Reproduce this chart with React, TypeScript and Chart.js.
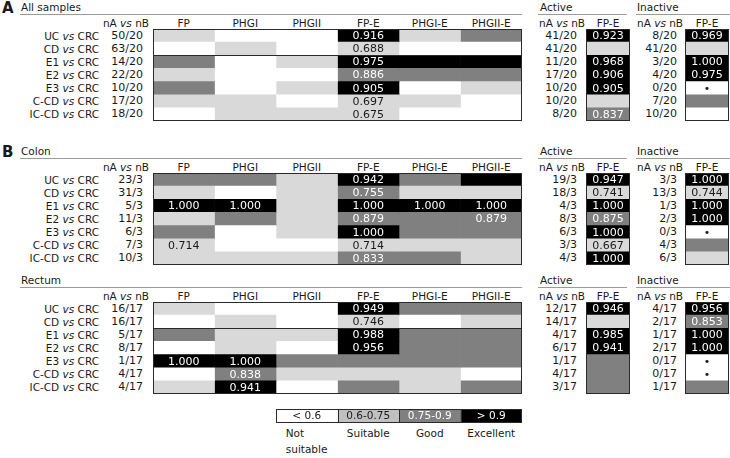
import React, { useEffect, useRef } from 'react';
import { Chart, registerables } from 'chart.js';
Chart.register(...registerables);

// ---------------- DATA ----------------
const comparisons = ['UC', 'CD', 'E1', 'E2', 'E3', 'C-CD', 'IC-CD'];
const methods = ['FP', 'PHGI', 'PHGII', 'FP-E', 'PHGI-E', 'PHGII-E'];
// class codes: 0 = < 0.6, 1 = 0.6-0.75, 2 = 0.75-0.9, 3 = > 0.9
const legendRanges = ['< 0.6', '0.6-0.75', '0.75-0.9', '> 0.9'];
const legendNames = ['Not suitable', 'Suitable', 'Good', 'Excellent'];

// All samples
const allN = ['50/20', '63/20', '14/20', '22/20', '10/20', '17/20', '18/20'];
const allClass = [
  [1, 0, 0, 3, 1, 2],
  [0, 1, 0, 1, 0, 0],
  [2, 0, 1, 3, 3, 3],
  [1, 0, 0, 2, 2, 2],
  [2, 0, 1, 3, 0, 1],
  [1, 1, 0, 1, 1, 0],
  [0, 1, 1, 1, 0, 0],
];
const allText = [
  ['', '', '', '0.916', '', ''],
  ['', '', '', '0.688', '', ''],
  ['', '', '', '0.975', '', ''],
  ['', '', '', '0.886', '', ''],
  ['', '', '', '0.905', '', ''],
  ['', '', '', '0.697', '', ''],
  ['', '', '', '0.675', '', ''],
];
const allActiveN = ['41/20', '41/20', '11/20', '17/20', '10/20', '10/20', '8/20'];
const allActiveClass = [3, 1, 3, 3, 3, 1, 2];
const allActiveText = ['0.923', '', '0.968', '0.906', '0.905', '', '0.837'];
const allInactiveN = ['8/20', '41/20', '3/20', '4/20', '0/20', '7/20', '10/20'];
const allInactiveClass = [3, 1, 3, 3, 0, 2, 0];
const allInactiveText = ['0.969', '', '1.000', '0.975', '•', '', ''];

// Colon
const colonN = ['23/3', '31/3', '5/3', '11/3', '6/3', '7/3', '10/3'];
const colonClass = [
  [2, 2, 1, 3, 2, 3],
  [1, 0, 1, 2, 1, 1],
  [3, 3, 1, 3, 3, 3],
  [1, 2, 1, 2, 2, 2],
  [2, 0, 1, 3, 2, 2],
  [1, 0, 0, 1, 1, 1],
  [1, 1, 1, 2, 2, 1],
];
const colonText = [
  ['', '', '', '0.942', '', ''],
  ['', '', '', '0.755', '', ''],
  ['1.000', '1.000', '', '1.000', '1.000', '1.000'],
  ['', '', '', '0.879', '', '0.879'],
  ['', '', '', '1.000', '', ''],
  ['0.714', '', '', '0.714', '', ''],
  ['', '', '', '0.833', '', ''],
];
const colonActiveN = ['19/3', '18/3', '4/3', '8/3', '6/3', '3/3', '4/3'];
const colonActiveClass = [3, 1, 3, 2, 3, 1, 3];
const colonActiveText = ['0.947', '0.741', '1.000', '0.875', '1.000', '0.667', '1.000'];
const colonInactiveN = ['3/3', '13/3', '1/3', '2/3', '0/3', '4/3', '6/3'];
const colonInactiveClass = [3, 1, 3, 3, 0, 2, 1];
const colonInactiveText = ['1.000', '0.744', '1.000', '1.000', '•', '', ''];

// Rectum
const rectumN = ['16/17', '16/17', '5/17', '8/17', '1/17', '4/17', '4/17'];
const rectumClass = [
  [1, 0, 0, 3, 2, 2],
  [0, 1, 0, 1, 0, 1],
  [2, 1, 1, 3, 2, 2],
  [0, 1, 0, 3, 2, 2],
  [3, 3, 2, 2, 2, 2],
  [0, 2, 1, 1, 1, 0],
  [1, 3, 0, 2, 1, 2],
];
const rectumText = [
  ['', '', '', '0.949', '', ''],
  ['', '', '', '0.746', '', ''],
  ['', '', '', '0.988', '', ''],
  ['', '', '', '0.956', '', ''],
  ['1.000', '1.000', '', '', '', ''],
  ['', '0.838', '', '', '', ''],
  ['', '0.941', '', '', '', ''],
];
const rectumActiveN = ['12/17', '14/17', '4/17', '6/17', '1/17', '4/17', '3/17'];
const rectumActiveClass = [3, 1, 3, 3, 2, 2, 2];
const rectumActiveText = ['0.946', '', '0.985', '0.941', '', '', ''];
const rectumInactiveN = ['4/17', '2/17', '1/17', '2/17', '0/17', '0/17', '1/17'];
const rectumInactiveClass = [3, 2, 3, 3, 0, 0, 2];
const rectumInactiveText = ['0.956', '0.853', '1.000', '1.000', '•', '•', ''];

// ---------------- STYLE / LAYOUT ----------------
const FONT = "'DejaVu Sans', sans-serif";
const TEXT_COLOR = '#1a1a1a';
const CELL_COLORS = ['#ffffff', '#d9d9d9', '#808080', '#000000'];
const LEGEND_COLORS = ['#ffffff', '#c0c0c0', '#808080', '#000000'];
const ROW_H = 13.1;
const MAIN_LEFT = 153;
const COL_W = 61.5;
const ACT_LEFT = 586;
const INACT_LEFT = 685;
const BOX_W = 44;

type GridProps = {
  left: number; top: number; width: number; height: number;
  labels: string[]; classes: number[][]; texts: string[][]; colors: string[];
  outline?: boolean; separator?: number | null; dividers?: boolean; fontSize?: number;
};

function Grid(p: GridProps) {
  const ref = useRef<HTMLCanvasElement>(null);
  useEffect(() => {
    const nCols = p.classes[0].length;
    const datasets = Array.from({ length: nCols }, (_, c) => ({
      data: p.classes.map(() => [c, c + 1]),
      backgroundColor: p.classes.map((row) => p.colors[row[c]]),
      borderWidth: 0,
      grouped: false,
      barPercentage: 1,
      categoryPercentage: 1,
    }));
    const decor = {
      id: 'gridDecor',
      afterDatasetsDraw(chart: any) {
        const { ctx, chartArea: a } = chart;
        ctx.save();
        ctx.font = `${p.fontSize ?? 11}px ${FONT}`;
        ctx.textAlign = 'center';
        ctx.textBaseline = 'middle';
        chart.data.datasets.forEach((_ds: any, c: number) => {
          const meta = chart.getDatasetMeta(c);
          meta.data.forEach((el: any, r: number) => {
            const t = p.texts[r] && p.texts[r][c];
            if (!t) return;
            const q = el.getProps(['x', 'y', 'base'], true);
            ctx.fillStyle = p.classes[r][c] >= 2 ? '#ffffff' : TEXT_COLOR;
            ctx.fillText(t, (q.x + q.base) / 2, q.y + 0.5);
          });
        });
        ctx.strokeStyle = '#2a2a2a';
        ctx.lineWidth = 1;
        if (p.separator != null) {
          const ys = chart.scales.y;
          const yy = Math.round((ys.getPixelForValue(p.separator) + ys.getPixelForValue(p.separator + 1)) / 2) + 0.5;
          ctx.beginPath();
          ctx.moveTo(a.left, yy);
          ctx.lineTo(a.right, yy);
          ctx.stroke();
        }
        if (p.dividers) {
          const xs = chart.scales.x;
          for (let c = 1; c < nCols; c++) {
            const xx = Math.round(xs.getPixelForValue(c)) + 0.5;
            ctx.beginPath();
            ctx.moveTo(xx, a.top);
            ctx.lineTo(xx, a.bottom);
            ctx.stroke();
          }
        }
        if (p.outline) ctx.strokeRect(a.left + 0.5, a.top + 0.5, a.width - 1, a.height - 1);
        ctx.restore();
      },
    };
    const chart = new Chart(ref.current as HTMLCanvasElement, {
      type: 'bar',
      data: { labels: p.labels, datasets: datasets as any },
      options: {
        indexAxis: 'y',
        responsive: false,
        animation: false,
        events: [],
        layout: { padding: 0 },
        plugins: { legend: { display: false }, tooltip: { enabled: false } },
        scales: {
          x: { type: 'linear', min: 0, max: nCols, display: false },
          y: { type: 'category', display: false },
        },
      },
      plugins: [decor],
    });
    return () => chart.destroy();
  }, []);
  return (
    <canvas
      ref={ref}
      width={p.width}
      height={p.height}
      style={{ position: 'absolute', left: p.left, top: p.top, width: p.width, height: p.height }}
    />
  );
}

function Txt({ x, y, align = 'left', children, style }: any) {
  const w = 300;
  const left = align === 'left' ? x : align === 'right' ? x - w : x - w / 2;
  return (
    <div
      style={{
        position: 'absolute', left, top: y - 8, width: w, height: 16, lineHeight: '16px',
        textAlign: align, whiteSpace: 'nowrap', ...style,
      }}
    >
      {children}
    </div>
  );
}

function HLine({ x1, x2, y }: any) {
  return <div style={{ position: 'absolute', left: x1, top: y, width: x2 - x1, height: 1, background: '#9a9a9a' }} />;
}

const VsLabel = (a: string, b: string) => (
  <>
    {a} <i>vs</i> {b}
  </>
);

type Section = {
  letter?: string; title: string; top: number;
  n: string[]; cls: number[][]; txt: string[][]; sep: number | null;
  actN: string[]; actCls: number[]; actTxt: string[];
  inaN: string[]; inaCls: number[]; inaTxt: string[];
};

const sections: Section[] = [
  { letter: 'A', title: 'All samples', top: 29, n: allN, cls: allClass, txt: allText, sep: 1,
    actN: allActiveN, actCls: allActiveClass, actTxt: allActiveText,
    inaN: allInactiveN, inaCls: allInactiveClass, inaTxt: allInactiveText },
  { letter: 'B', title: 'Colon', top: 173, n: colonN, cls: colonClass, txt: colonText, sep: null,
    actN: colonActiveN, actCls: colonActiveClass, actTxt: colonActiveText,
    inaN: colonInactiveN, inaCls: colonInactiveClass, inaTxt: colonInactiveText },
  { title: 'Rectum', top: 302, n: rectumN, cls: rectumClass, txt: rectumText, sep: 1,
    actN: rectumActiveN, actCls: rectumActiveClass, actTxt: rectumActiveText,
    inaN: rectumInactiveN, inaCls: rectumInactiveClass, inaTxt: rectumInactiveText },
];

function SectionView({ s }: { s: Section }) {
  const rowLabels = comparisons.map((c) => `${c} vs CRC`);
  const h = Math.round(ROW_H * comparisons.length);
  const titleY = s.top - 22;
  const lineY = s.top - 15;
  const headY = s.top - 6;
  const rowY = (r: number) => s.top + (r + 0.5) * (h / comparisons.length);
  const numStyle = { fontSize: 11 };
  return (
    <>
      {s.letter && (
        <Txt x={2} y={titleY + 1} style={{ fontWeight: 'bold', fontSize: 15 }}>{s.letter}</Txt>
      )}
      <Txt x={21} y={titleY}>{s.title}</Txt>
      <HLine x1={20} x2={522} y={lineY} />
      <Txt x={540} y={titleY}>Active</Txt>
      <HLine x1={538} x2={627} y={lineY} />
      <Txt x={637} y={titleY}>Inactive</Txt>
      <HLine x1={636} x2={730} y={lineY} />

      <Txt x={149} y={headY} align="right">{VsLabel('nA', 'nB')}</Txt>
      {methods.map((m, c) => (
        <Txt key={m} x={MAIN_LEFT + (c + 0.5) * COL_W} y={headY} align="center">{m}</Txt>
      ))}
      <Txt x={539} y={headY}>{VsLabel('nA', 'nB')}</Txt>
      <Txt x={ACT_LEFT + BOX_W / 2} y={headY} align="center">FP-E</Txt>
      <Txt x={637} y={headY}>{VsLabel('nA', 'nB')}</Txt>
      <Txt x={INACT_LEFT + BOX_W / 2} y={headY} align="center">FP-E</Txt>

      {comparisons.map((c, r) => (
        <React.Fragment key={c}>
          <Txt x={99} y={rowY(r)} align="right">{VsLabel(c, 'CRC')}</Txt>
          <Txt x={143} y={rowY(r)} align="right" style={numStyle}>{s.n[r]}</Txt>
          <Txt x={577} y={rowY(r)} align="right" style={numStyle}>{s.actN[r]}</Txt>
          <Txt x={677} y={rowY(r)} align="right" style={numStyle}>{s.inaN[r]}</Txt>
        </React.Fragment>
      ))}

      <Grid left={MAIN_LEFT} top={s.top} width={Math.round(COL_W * methods.length)} height={h}
        labels={rowLabels} classes={s.cls} texts={s.txt} colors={CELL_COLORS} outline separator={s.sep} />
      <Grid left={ACT_LEFT} top={s.top} width={BOX_W} height={h}
        labels={rowLabels} classes={s.actCls.map((v) => [v])} texts={s.actTxt.map((t) => [t])}
        colors={CELL_COLORS} outline />
      <Grid left={INACT_LEFT} top={s.top} width={BOX_W} height={h}
        labels={rowLabels} classes={s.inaCls.map((v) => [v])} texts={s.inaTxt.map((t) => [t])}
        colors={CELL_COLORS} outline />
    </>
  );
}

function LegendView() {
  const top = 409;
  const left = MAIN_LEFT + 2 * COL_W;
  const centers = legendNames.map((_, i) => left + (i + 0.5) * COL_W);
  return (
    <>
      <Grid left={Math.round(left)} top={top} width={Math.round(COL_W * 4)} height={14}
        labels={['legend']} classes={[[0, 1, 2, 3]]} texts={[legendRanges]} colors={LEGEND_COLORS}
        outline dividers fontSize={10.5} />
      {legendNames.map((name, i) => {
        if (name === 'Not suitable') {
          const x0 = centers[i] - 21;
          return (
            <React.Fragment key={name}>
              <Txt x={x0} y={433}>Not</Txt>
              <Txt x={x0} y={449}>suitable</Txt>
            </React.Fragment>
          );
        }
        return <Txt key={name} x={centers[i]} y={433} align="center">{name}</Txt>;
      })}
    </>
  );
}

export default function App() {
  return (
    <div
      style={{
        position: 'absolute', left: 0, top: 0, width: 730, height: 458, overflow: 'hidden',
        background: '#ffffff', fontFamily: FONT, fontSize: 10.5, color: TEXT_COLOR,
      }}
    >
      {sections.map((s) => (
        <SectionView key={s.title} s={s} />
      ))}
      <LegendView />
    </div>
  );
}
